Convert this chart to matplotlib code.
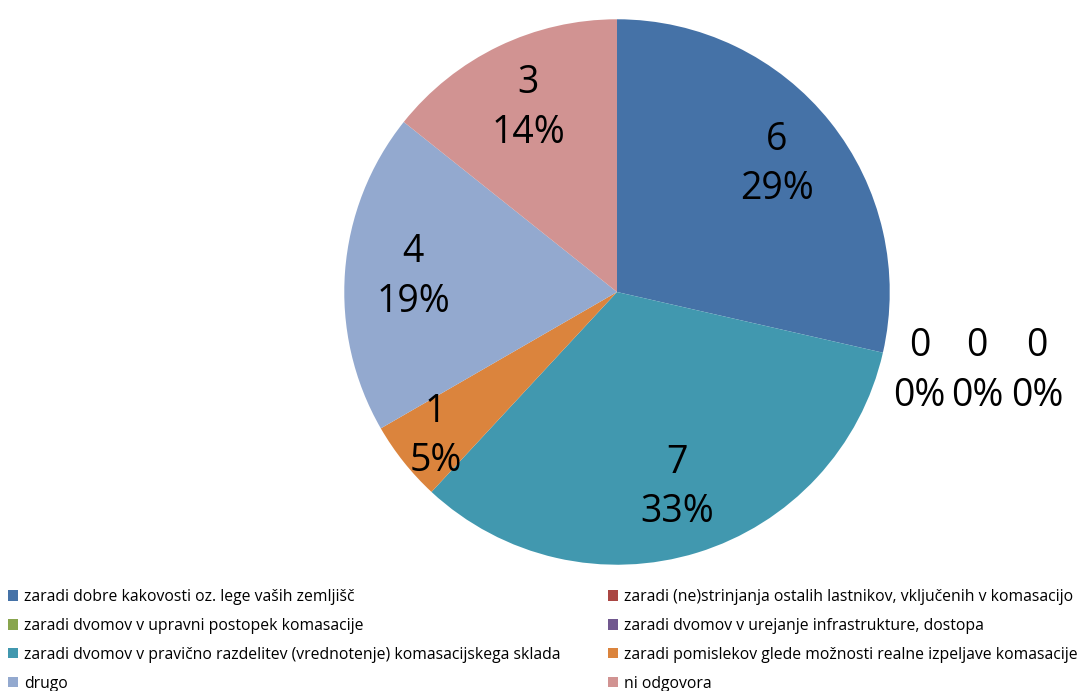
import numpy as np
import matplotlib
matplotlib.use('Agg')
from matplotlib import pyplot as plt
from matplotlib.patches import Patch

plt.rcParams['font.family'] = ['Open Sans', 'DejaVu Sans']

Categories = ['zaradi dobre kakovosti oz. lege vaših zemljišč',
              'zaradi (ne)strinjanja ostalih lastnikov, vključenih v komasacijo',
              'zaradi dvomov v upravni postopek komasacije',
              'zaradi dvomov v urejanje infrastrukture, dostopa',
              'zaradi dvomov v pravično razdelitev (vrednotenje) komasacijskega sklada',
              'zaradi pomislekov glede možnosti realne izpeljave komasacije',
              'drugo',
              'ni odgovora']
Values = [6, 0, 0, 0, 7, 1, 4, 3]
Colors = ['#4572A7', '#AA4643', '#89A54E', '#71588F', '#4198AF', '#DB843D', '#93A9CF', '#D19392']

Fig = plt.figure(figsize=(10.83, 6.91), dpi=100)
S = 600
Ax = Fig.add_axes([(617 - S / 2) / 1083, (691 - 292 - S / 2) / 691, S / 1083, S / 691])
Wedges, _ = Ax.pie(Values, colors=Colors, startangle=90, counterclock=False, radius=1)
Ax.set_xlim(-1.1, 1.1)
Ax.set_ylim(-1.1, 1.1)
Ax.set_aspect('equal')
Ax.axis('off')

Total = sum(Values)
Zero_X = [1.11, 1.32, 1.54]
z = 0
for W, v in zip(Wedges, Values):
    Pct = v / Total * 100
    Txt = '%d\n%d%%' % (v, round(Pct))
    if v == 0:
        Ax.text(Zero_X[z], -0.29, Txt, ha='center', va='center', fontsize=27, linespacing=1.4)
        z += 1
        continue
    Ang = np.deg2rad((W.theta1 + W.theta2) / 2)
    D = 0.85 if v / Total < 0.1 else 0.75
    Ax.text(D * np.cos(Ang), D * np.sin(Ang), Txt, ha='center', va='center', fontsize=27, linespacing=1.4)

Handles = [Patch(facecolor=c, edgecolor='none') for c in Colors]
Leg_Kw = dict(frameon=False, fontsize=11.3, handlelength=0.65, handleheight=0.65, handletextpad=0.4,
              labelspacing=0.82, borderaxespad=0, borderpad=0)
Fig.legend([Handles[i] for i in [0, 2, 4, 6]], [Categories[i] for i in [0, 2, 4, 6]],
           loc='upper left', bbox_to_anchor=(8 / 1083, 1 - 589 / 691), **Leg_Kw)
Fig.legend([Handles[i] for i in [1, 3, 5, 7]], [Categories[i] for i in [1, 3, 5, 7]],
           loc='upper left', bbox_to_anchor=(608 / 1083, 1 - 589 / 691), **Leg_Kw)

plt.savefig('out.png', dpi=100)
